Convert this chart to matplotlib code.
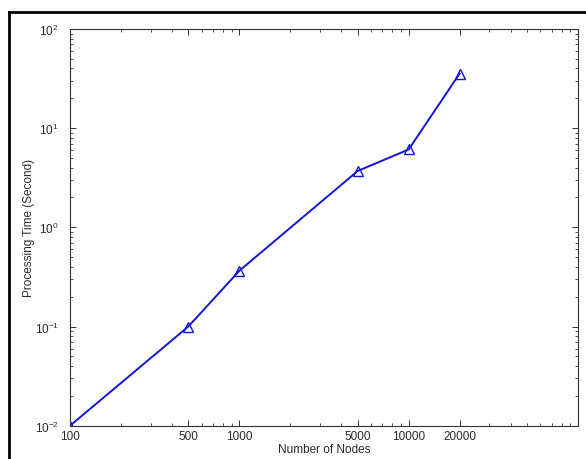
import matplotlib
matplotlib.use("Agg")
import matplotlib.pyplot as plt
from matplotlib.ticker import FixedLocator, FixedFormatter, LogLocator, NullFormatter
import numpy as np

plt.rcParams["font.family"] = ["Liberation Sans", "DejaVu Sans"]
plt.rcParams["mathtext.default"] = "regular"

# data
nodes = [100, 500, 1000, 5000, 10000, 20000]
proc_time = [0.01, 0.1, 0.365, 3.7, 6.1, 35.5]
xtick_vals = [100, 500, 1000, 5000, 10000, 20000]
xtick_labels = ["100", "500", "1000", "5000", "10000", "20000"]

fig = plt.figure(figsize=(5.86, 4.60), dpi=100)
ax = fig.add_axes([0.1195, 0.0724, 0.8668, 0.8624])

ax.plot(nodes, proc_time, "-^", color="#1414d2", linewidth=1.4,
        markersize=7, markerfacecolor="none", markeredgecolor="#1414d2",
        markeredgewidth=1.0)

ax.set_xscale("log")
ax.set_yscale("log")
ax.set_xlim(100, 1e5)
ax.set_ylim(1e-2, 1e2)

ax.xaxis.set_major_locator(FixedLocator(xtick_vals))
ax.xaxis.set_major_formatter(FixedFormatter(xtick_labels))
ax.xaxis.set_minor_locator(LogLocator(base=10, subs=np.arange(1, 10), numticks=20))
ax.xaxis.set_minor_formatter(NullFormatter())
ax.yaxis.set_minor_locator(LogLocator(base=10, subs=np.arange(2, 10), numticks=20))
ax.yaxis.set_minor_formatter(NullFormatter())

ax.tick_params(which="both", direction="in", top=True, right=True,
               labelsize=8.5, labelcolor="#2a2a2a", color="#333333")
ax.tick_params(which="major", length=4, width=0.7)
ax.tick_params(which="minor", length=2, width=0.6)
ax.tick_params(axis="x", pad=3)
ax.tick_params(axis="y", pad=8)
for sp in ax.spines.values():
    sp.set_linewidth(0.8)
    sp.set_color("#333333")

ax.set_xlabel("Number of Nodes", fontsize=8.5, color="#2a2a2a", labelpad=1)
ax.set_ylabel("Processing Time (Second)", fontsize=8.5, color="#2a2a2a")
ax.yaxis.set_label_coords(-0.069, 0.5)

# outer frame of the scanned figure (left and top edges)
fig.add_artist(plt.Line2D([9 / 586, 9 / 586], [0, 1 - 13 / 460], color="black",
                          linewidth=2.0, transform=fig.transFigure))
fig.add_artist(plt.Line2D([9 / 586, 1], [1 - 13 / 460, 1 - 13 / 460], color="black",
                          linewidth=2.0, transform=fig.transFigure))

fig.savefig("out.png", dpi=100)
